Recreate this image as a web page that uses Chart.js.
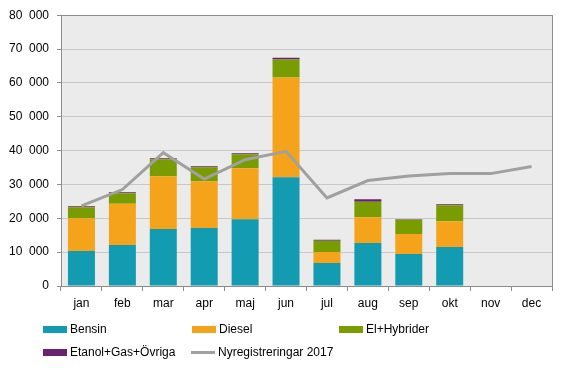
<!DOCTYPE html>
<html><head><meta charset="utf-8">
<script src="https://cdn.jsdelivr.net/npm/chart.js@4/dist/chart.umd.min.js"></script>
<style>
html,body{margin:0;padding:0;background:#fff;}
#wrap{position:relative;width:567px;height:370px;font-family:"Liberation Sans",Arial,sans-serif;}
canvas{position:absolute;left:0;top:0;}
.lg{position:absolute;font-size:12px;color:#000;line-height:14px;white-space:nowrap;}
.sw{position:absolute;}
</style></head>
<body><div id="wrap"><canvas id="c" width="567" height="370"></canvas>
<div id="legend"></div></div>
<script>
const months = ["jan","feb","mar","apr","maj","jun","jul","aug","sep","okt","nov","dec"];
const bensin = [10320,12090,16810,17100,19750,32140,6780,12680,9430,11500,null,null];
const diesel = [9730,12190,15620,13860,15040,29480,3240,7660,5900,7660,null,null];
const elHybrid = [3240,3140,5010,4130,4130,5310,3350,4520,4230,4720,null,null];
const etanolGas = [300,290,300,290,290,490,290,790,190,300,null,null];
const nyreg2017 = [23700,28500,39400,31600,37300,39800,26000,31150,32500,33200,33200,35300];
const yTicks = [0,10000,20000,30000,40000,50000,60000,70000,80000];

const colors = {bensin:"#139bb1", diesel:"#f5a31a", el:"#799c00", etanol:"#6b2072", line:"#a0a0a0"};

const bgPlugin = {
  id:"bg",
  beforeDraw(chart){
    const {ctx, chartArea:a} = chart;
    ctx.save(); ctx.fillStyle="#ebebeb"; ctx.fillRect(a.left,a.top,a.right-a.left,a.bottom-a.top); ctx.restore();
  },
  afterDraw(chart){
    const {ctx, chartArea:a} = chart;
    ctx.save(); ctx.strokeStyle="#8c8c8c"; ctx.lineWidth=1;
    ctx.strokeRect(Math.round(a.left)+0.5,Math.round(a.top)+0.5,Math.round(a.right-a.left),Math.round(a.bottom-a.top));
    ctx.restore();
  }
};

const fmt = v => String(v).replace(/\B(?=(\d{3})+(?!\d))/g,"  ");

new Chart(document.getElementById("c"), {
  type:"bar",
  data:{
    labels: months,
    datasets:[
      {type:"line", label:"Nyregistreringar 2017", data:nyreg2017, borderColor:colors.line, backgroundColor:colors.line, borderWidth:3, pointRadius:0, tension:0, stack:"line", order:0},
      {label:"Bensin", data:bensin, backgroundColor:colors.bensin, stack:"s", order:1, barPercentage:0.66, categoryPercentage:1},
      {label:"Diesel", data:diesel, backgroundColor:colors.diesel, stack:"s", order:1, barPercentage:0.66, categoryPercentage:1},
      {label:"El+Hybrider", data:elHybrid, backgroundColor:colors.el, stack:"s", order:1, barPercentage:0.66, categoryPercentage:1},
      {label:"Etanol+Gas+Övriga", data:etanolGas, backgroundColor:colors.etanol, stack:"s", order:1, barPercentage:0.66, categoryPercentage:1}
    ]
  },
  options:{
    responsive:false, animation:false,
    layout:{padding:{top:15,right:15,left:0,bottom:0}},
    plugins:{legend:{display:false}, tooltip:{enabled:false}},
    scales:{
      x:{
        stacked:true,
        grid:{offset:true, drawOnChartArea:false, color:"#8c8c8c", tickLength:5},
        border:{color:"#8c8c8c"},
        ticks:{color:"#000", font:{family:"Liberation Sans", size:12}, padding:5},
        afterFit(s){ s.height = 84; }
      },
      y:{
        stacked:true, min:0, max:80000,
        afterBuildTicks(s){ s.ticks = yTicks.map(v=>({value:v})); },
        grid:{color:"#c8c8c8", tickLength:4, tickColor:"#8c8c8c", tickBorderDash:[], borderDash:[2,2]},
        border:{color:"#8c8c8c", dash:[]},
        ticks:{color:"#000", font:{family:"Liberation Sans", size:12}, padding:8, callback:v=>fmt(v)},
        afterFit(s){ s.width = 61; }
      }
    }
  },
  plugins:[bgPlugin]
});

// HTML legend
const legendItems = [
  {label:"Bensin", color:colors.bensin, x:43, y:326, type:"box"},
  {label:"Diesel", color:colors.diesel, x:192, y:326, type:"box"},
  {label:"El+Hybrider", color:colors.el, x:339, y:326, type:"box"},
  {label:"Etanol+Gas+Övriga", color:colors.etanol, x:43, y:349, type:"box"},
  {label:"Nyregistreringar 2017", color:colors.line, x:191, y:349, type:"line"}
];
const lg = document.getElementById("legend");
legendItems.forEach(it=>{
  const sw = document.createElement("div");
  sw.className="sw";
  sw.style.left = it.x+"px";
  if(it.type==="box"){ sw.style.top = it.y+"px"; sw.style.width="24px"; sw.style.height="7px"; }
  else { sw.style.top = (it.y+2)+"px"; sw.style.width="24px"; sw.style.height="3px"; }
  sw.style.background = it.color;
  lg.appendChild(sw);
  const t = document.createElement("div");
  t.className="lg"; t.textContent = it.label;
  t.style.left = (it.x+27)+"px"; t.style.top = (it.y-4)+"px";
  lg.appendChild(t);
});
</script></body></html>
